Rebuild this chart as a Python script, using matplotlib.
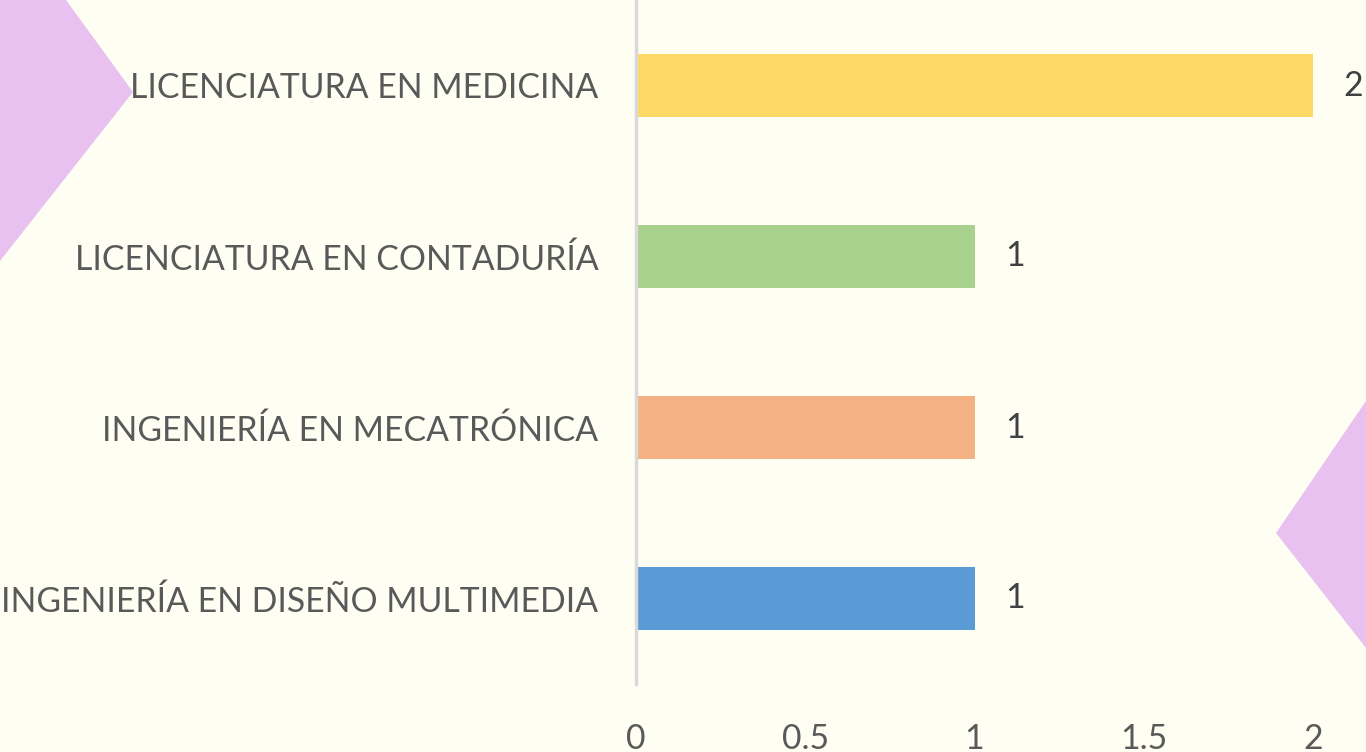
import matplotlib
matplotlib.use("Agg")
import matplotlib.pyplot as plt
from matplotlib.patches import Polygon

categories = ["INGENIERÍA EN DISEÑO MULTIMEDIA", "INGENIERÍA EN MECATRÓNICA",
              "LICENCIATURA EN CONTADURÍA", "LICENCIATURA EN MEDICINA"]
values = [1, 1, 1, 2]
colors = ["#5B9BD5", "#F4B183", "#A9D18E", "#FFD966"]
xticks = [0, 0.5, 1, 1.5, 2]
xticklabels = ["0", "0.5", "1", "1.5", "2"]

W, H = 1366, 752
bg = "#FFFEF2"
purple = "#E9C1F1"
plt.rcParams['font.family'] = ['Lato', 'DejaVu Sans']

fig = plt.figure(figsize=(W / 100, H / 100), dpi=100)
fig.patch.set_facecolor(bg)

def px(x, y):
    return (x / W, 1 - y / H)

left_shape = Polygon([px(-5, -5), px(66, -5), px(66, 0), px(133, 92), px(0, 261), px(-5, 261)],
                     closed=True, transform=fig.transFigure, facecolor=purple, edgecolor='none', zorder=0)
right_shape = Polygon([px(1371, 401), px(1366, 401), px(1276, 533), px(1366, 648), px(1371, 648)],
                      closed=True, transform=fig.transFigure, facecolor=purple, edgecolor='none', zorder=0)
fig.patches.extend([left_shape, right_shape])

ax = fig.add_axes([636 / W, 1 - 684 / H, (1313 - 636) / W, 684 / H])
ax.set_facecolor('none')
y = list(range(len(categories)))
ax.barh(y, values, height=0.367, color=colors, zorder=2)
ax.set_xlim(0, 2)
ax.set_ylim(-0.5, len(categories) - 0.5)

for s in ['top', 'right', 'bottom']:
    ax.spines[s].set_visible(False)
ax.spines['left'].set_color('#D9D9D9')
ax.spines['left'].set_linewidth(2.5)
ax.spines['left'].set_zorder(3)

fs = 24.3
ax.set_yticks(y)
ax.set_yticklabels(categories, fontsize=fs, color='#595959')
ax.set_xticks(xticks)
ax.set_xticklabels(xticklabels, fontsize=fs, color='#595959')
ax.tick_params(axis='y', length=0, pad=27)
ax.tick_params(axis='x', length=0, pad=28)

for yi, v in zip(y, values):
    ax.text(v + 0.09, yi, str(v), va='center', ha='left', fontsize=fs,
            color='#404040', clip_on=False)

fig.savefig("out.png", dpi=100, facecolor=bg)
